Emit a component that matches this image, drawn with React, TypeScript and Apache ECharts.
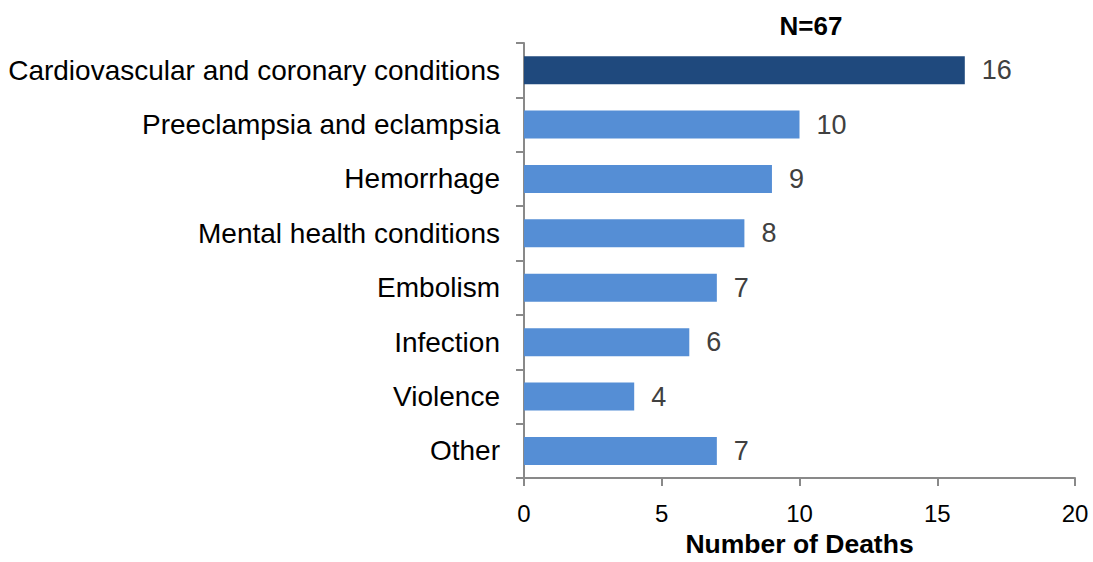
import React, { useEffect, useRef } from "react";
import * as echarts from "echarts";

const categories = [
  "Cardiovascular and coronary conditions",
  "Preeclampsia and eclampsia",
  "Hemorrhage",
  "Mental health conditions",
  "Embolism",
  "Infection",
  "Violence",
  "Other",
];
const deaths = [16, 10, 9, 8, 7, 6, 4, 7];
const highlightIndex = 0;
const xTicks = [0, 5, 10, 15, 20];

export default function App() {
  const ref = useRef<HTMLDivElement>(null);
  useEffect(() => {
    if (!ref.current) return;
    const chart = echarts.init(ref.current, undefined, { renderer: "svg" });
    const font = "'Liberation Sans', Arial, sans-serif";
    chart.setOption({
      animation: false,
      title: {
        text: "N=67",
        left: 806,
        top: 8,
        textAlign: "center",
        textStyle: { fontFamily: font, fontSize: 26, fontWeight: "bold", color: "#000" },
      },
      grid: { left: 524, right: 18, top: 43, bottom: 82, containLabel: false },
      xAxis: {
        type: "value",
        min: xTicks[0],
        max: xTicks[xTicks.length - 1],
        interval: 5,
        name: "Number of Deaths",
        nameLocation: "middle",
        nameGap: 50,
        nameTextStyle: { fontFamily: font, fontSize: 26.5, fontWeight: "bold", color: "#000" },
        axisLine: { show: true, lineStyle: { color: "#898989", width: 2 } },
        axisTick: { show: true, length: 8, lineStyle: { color: "#898989", width: 2 } },
        axisLabel: { fontFamily: font, fontSize: 24, color: "#000", margin: 23 },
        splitLine: { show: false },
      },
      yAxis: {
        type: "category",
        inverse: true,
        data: categories,
        axisLine: { show: true, lineStyle: { color: "#898989", width: 2 } },
        axisTick: { show: true, length: 8, lineStyle: { color: "#898989", width: 2 } },
        axisLabel: { fontFamily: font, fontSize: 28, color: "#000", margin: 24 },
      },
      series: [
        {
          type: "bar",
          data: deaths.map((v, i) => ({
            value: v,
            itemStyle: { color: i === highlightIndex ? "#1F497D" : "#558ED5" },
          })),
          barWidth: 28,
          label: {
            show: true,
            position: "right",
            distance: 17,
            fontFamily: font,
            fontSize: 27,
            color: "#404040",
          },
        },
      ],
    });
    return () => chart.dispose();
  }, []);
  return (
    <div
      ref={ref}
      style={{ position: "fixed", left: 0, top: 0, width: 1093, height: 562, background: "#fff" }}
    />
  );
}
